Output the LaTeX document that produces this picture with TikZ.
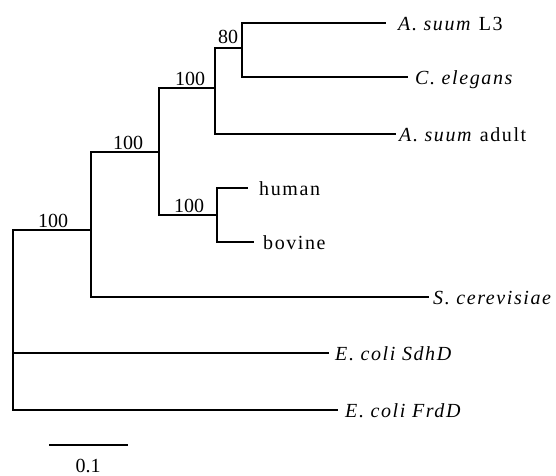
\documentclass[tikz,border=0pt]{standalone}
\usepackage{fontspec}
\setmainfont{Liberation Serif}
\newfontfamily\lblfont[LetterSpace=8]{Liberation Serif}
\newfontfamily\numfont{Liberation Serif}
\begin{document}
\begin{tikzpicture}[x=1pt,y=-1pt,
  br/.style={line width=2pt, line cap=rect},
  leaf/.style={anchor=base west, inner sep=0pt, font=\fontsize{20}{23}\lblfont},
  boot/.style={anchor=base, inner sep=0pt, font=\fontsize{20}{23}\numfont}]
\useasboundingbox (0,0) rectangle (556,475);
% internal nodes
\coordinate (root) at (13,230);
\coordinate (nA) at (91,230);
\coordinate (nB) at (159,152);
\coordinate (nC) at (215,88);
\coordinate (nD) at (242,48);
\coordinate (nE) at (217,215);
% branch ends
\coordinate (eL3) at (385,23);
\coordinate (eCel) at (407,77);
\coordinate (eAdult) at (395,134);
\coordinate (eHum) at (247,188);
\coordinate (eBov) at (253,242);
\coordinate (eScer) at (428,297);
\coordinate (eSdh) at (328,353);
\coordinate (eFrd) at (337,410);
% branches
\draw[br] (root) -- (nA);
\draw[br] (root) |- (eSdh);
\draw[br] (root) |- (eFrd);
\draw[br] (nA) |- (nB);
\draw[br] (nA) |- (eScer);
\draw[br] (nB) |- (nC);
\draw[br] (nB) |- (nE);
\draw[br] (nC) |- (nD);
\draw[br] (nC) |- (eAdult);
\draw[br] (nD) |- (eL3);
\draw[br] (nD) |- (eCel);
\draw[br] (nE) |- (eHum);
\draw[br] (nE) |- (eBov);
% leaf labels
\node[leaf] (tL3) at (398,30) {\textit{A. suum} L3};
\node[leaf] (tCel) at (415,84) {\textit{C. elegans}};
\node[leaf] (tAdult) at (399,141) {\textit{A. suum} adult};
\node[leaf] (tHum) at (259,195.5) {human};
\node[leaf] (tBov) at (263,249.5) {bovine};
\node[leaf] (tScer) at (433,304.5) {\textit{S. cerevisiae}};
\node[leaf] (tSdh) at (335,360) {\textit{E. coli SdhD}};
\node[leaf] (tFrd) at (345,417) {\textit{E. coli FrdD}};
% bootstrap values
\node[boot] (bA) at (53,227) {100};
\node[boot] (bB) at (128,149) {100};
\node[boot] (bC) at (190,85) {100};
\node[boot] (bE) at (189,212) {100};
\node[boot] (bD) at (228,43) {80};
% scale bar
\coordinate (s1) at (50,445);
\coordinate (s2) at (127,445);
\draw[br] (s1) -- (s2);
\node[boot] (tScale) at (88,472) {0.1};
\end{tikzpicture}
\end{document}
